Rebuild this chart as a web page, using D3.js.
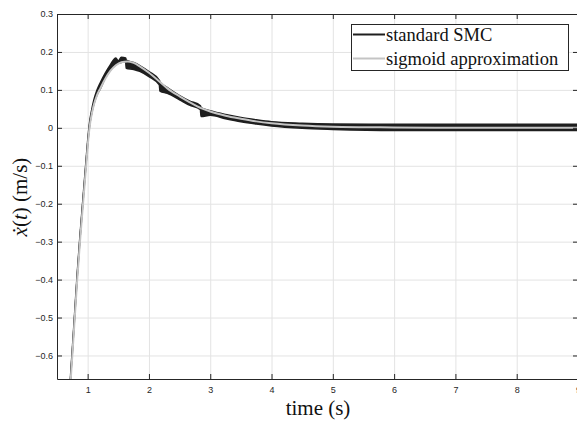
<!DOCTYPE html>
<html>
<head>
<meta charset="utf-8">
<script src="https://cdn.jsdelivr.net/npm/d3@7"></script>
<style>
  body{margin:0;background:#fff;}
  .tk text{font-family:"Liberation Sans",Arial,sans-serif;font-size:9px;fill:#262626;}
  .tk path,.tk line{stroke:#262626;}
  .grd line{stroke:#e3e3e3;}
  .grd path{display:none;}
  .lab{font-family:"Liberation Serif","Times New Roman",serif;fill:#111;}
</style>
</head>
<body>
<svg id="chart" width="577" height="423"></svg>
<script>
// ticks
var xTicks = [1,2,3,4,5,6,7,8,9];
var yTicks = [0.3,0.2,0.1,0,-0.1,-0.2,-0.3,-0.4,-0.5,-0.6];

// sigmoid approximation
var sigTime = [0.70,0.725,0.75,0.79,0.83,0.875,0.925,0.975,1.00,1.03,1.065,1.10,1.15,1.21,1.29,1.37,1.46,1.55,1.65,1.75,1.85,2.00,2.17,2.30,2.50,2.66,2.85,3.00,3.25,3.50,3.75,4.00,4.50,5.00,6.00,7.00,8.00,9.00];
var sigVal  = [-0.74,-0.662,-0.60,-0.50,-0.40,-0.30,-0.20,-0.10,-0.05,0.0,0.035,0.06,0.085,0.105,0.13,0.15,0.165,0.173,0.175,0.171,0.162,0.145,0.122,0.104,0.083,0.068,0.052,0.043,0.032,0.024,0.017,0.012,0.006,0.003,0.001,0.0,0.0,0.0];

// standard SMC, chattering band (upper / lower edge)
var smcTime = [0.70,0.725,0.75,0.79,0.83,0.875,0.925,0.975,1.00,1.03,1.065,1.10,1.15,1.21,1.29,1.37,1.46,1.50,1.55,1.62,1.63,1.75,1.85,2.00,2.17,2.18,2.30,2.50,2.66,2.84,2.85,3.00,3.25,3.50,3.75,4.00,4.50,5.00,6.00,7.00,8.00,9.00];
var smcHigh = [-0.72,-0.645,-0.585,-0.485,-0.385,-0.285,-0.185,-0.085,-0.036,0.012,0.046,0.072,0.098,0.12,0.145,0.166,0.184,0.176,0.186,0.184,0.178,0.172,0.164,0.148,0.125,0.121,0.106,0.085,0.071,0.058,0.053,0.045,0.035,0.027,0.021,0.016,0.012,0.010,0.009,0.009,0.009,0.009];
var smcLow  = [-0.73,-0.652,-0.592,-0.492,-0.392,-0.292,-0.192,-0.092,-0.043,0.004,0.038,0.062,0.086,0.104,0.132,0.152,0.166,0.170,0.172,0.175,0.157,0.154,0.149,0.135,0.113,0.097,0.091,0.074,0.060,0.048,0.030,0.033,0.024,0.016,0.010,0.005,-0.001,-0.004,-0.007,-0.007,-0.007,-0.007];

var legendNames = ["standard SMC","sigmoid approximation"];
var legendColors = ["#1e1e1e","#c4c4c4"];

var svg = d3.select("#chart");
var x = d3.scaleLinear().domain([0.5,9]).range([57,578]);
var y = d3.scaleLinear().domain([-0.662,0.3]).range([379,14]);

// grid
svg.append("g").attr("class","grd").attr("transform","translate(0,379)")
  .call(d3.axisBottom(x).tickValues(xTicks).tickSize(-365).tickFormat(""));
svg.append("g").attr("class","grd").attr("transform","translate(57,0)")
  .call(d3.axisLeft(y).tickValues(yTicks).tickSize(-521).tickFormat(""));

// data
var clip = svg.append("clipPath").attr("id","clp").append("rect")
  .attr("x",57.5).attr("y",14.5).attr("width",520.5).attr("height",364.5);
var plot = svg.append("g").attr("clip-path","url(#clp)");

var smc = smcTime.map(function(t,i){return {t:t,hi:smcHigh[i],lo:smcLow[i]};});
var band = d3.area().curve(d3.curveMonotoneX).x(function(d){return x(d.t);})
  .y0(function(d){return y(d.lo);}).y1(function(d){return y(d.hi);});
plot.append("path").datum(smc).attr("d",band).attr("fill",legendColors[0]);
plot.append("path").datum(smc)
  .attr("d",d3.line().curve(d3.curveMonotoneX).x(function(d){return x(d.t);}).y(function(d){return y(d.hi);}))
  .attr("fill","none").attr("stroke",legendColors[0]).attr("stroke-width",1.6);
plot.append("path").datum(smc)
  .attr("d",d3.line().curve(d3.curveMonotoneX).x(function(d){return x(d.t);}).y(function(d){return y(d.lo);}))
  .attr("fill","none").attr("stroke",legendColors[0]).attr("stroke-width",1.6);

var sig = sigTime.map(function(t,i){return [t,sigVal[i]];});
plot.append("path").datum(sig)
  .attr("d",d3.line().curve(d3.curveMonotoneX).x(function(d){return x(d[0]);}).y(function(d){return y(d[1]);}))
  .attr("fill","none").attr("stroke",legendColors[1]).attr("stroke-width",2);

// box axes, ticks inside
svg.append("g").attr("class","tk").attr("transform","translate(0,379)")
  .call(d3.axisBottom(x).tickValues(xTicks).tickSizeInner(-5).tickSizeOuter(0).tickPadding(8).tickFormat(d3.format("d")));
svg.append("g").attr("class","tk").attr("transform","translate(0,14)")
  .call(d3.axisTop(x).tickValues(xTicks).tickSizeInner(-5).tickSizeOuter(0).tickFormat(""));
svg.append("g").attr("class","tk").attr("transform","translate(57,0)")
  .call(d3.axisLeft(y).tickValues(yTicks).tickSizeInner(-5).tickSizeOuter(0).tickPadding(4).tickFormat(function(d){return d===0?"0":d3.format(".1f")(d);}));
svg.append("g").attr("class","tk").attr("transform","translate(578,0)")
  .call(d3.axisRight(y).tickValues(yTicks).tickSizeInner(-5).tickSizeOuter(0).tickFormat(""));

// labels
svg.append("text").attr("class","lab").attr("x",318).attr("y",415)
  .attr("text-anchor","middle").style("font-size","21px").text("time (s)");
var yl = svg.append("text").attr("class","lab").attr("text-anchor","middle")
  .attr("transform","translate(27,197) rotate(-90)").style("font-size","21px");
yl.append("tspan").style("font-style","italic").text("\u1E8B");
yl.append("tspan").text("(");
yl.append("tspan").style("font-style","italic").text("t");
yl.append("tspan").text(") (m/s)");

// legend
var lg = svg.append("g");
lg.append("rect").attr("x",351.5).attr("y",24.5).attr("width",217).attr("height",46)
  .attr("fill","#fff").attr("stroke","#262626").attr("stroke-width",1);
legendNames.forEach(function(n,i){
  var yy = 34.5 + i*24;
  lg.append("line").attr("x1",353).attr("x2",385).attr("y1",yy).attr("y2",yy)
    .attr("stroke",legendColors[i]).attr("stroke-width",2);
  lg.append("text").attr("class","lab").attr("x",386).attr("y",yy+6)
    .style("font-size","18.5px").text(n);
});
</script>
</body>
</html>
